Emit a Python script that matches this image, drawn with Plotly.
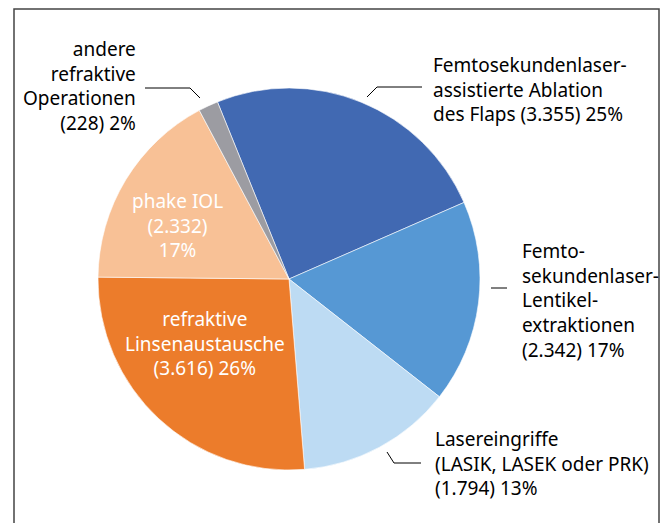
import plotly.graph_objects as go

# ==========================================
# DATA
# ==========================================

categories = [
    "Femtosekundenlaser-assistierte Ablation des Flaps",
    "Femtosekundenlaser-Lentikelextraktionen",
    "Lasereingriffe (LASIK, LASEK oder PRK)",
    "refraktive Linsenaustausche",
    "phake IOL",
    "andere refraktive Operationen",
]
counts = [3355, 2342, 1794, 3616, 2332, 228]
shares = ["25%", "17%", "13%", "26%", "17%", "2%"]
colors = ["#4169B2", "#5698D4", "#BDDBF3", "#EC7C2B", "#F8C196", "#9C9CA2"]

W, H = 668, 523
OFF = 8  # the page body adds an 8px margin
FONT = "Noto Sans"


def px(x):
    return (x - OFF) / W


def py(y):
    return 1 - (y - OFF) / H


def fmt(n):
    return f"{n:,}".replace(",", ".")


# ==========================================
# PIE
# ==========================================

cx, cy, r = 289, 279, 191

fig = go.Figure(go.Pie(
    labels=categories,
    values=counts,
    sort=False,
    direction="clockwise",
    rotation=-22,
    marker=dict(colors=colors, line=dict(color="white", width=0.6)),
    textinfo="none",
    hoverinfo="label+value+percent",
    showlegend=False,
    domain=dict(x=[px(cx - r), px(cx + r)], y=[py(cy + r), py(cy - r)]),
))

# ==========================================
# LABELS
# ==========================================

labels = [
    ("Femtosekundenlaser-<br>assistierte Ablation<br>des Flaps (%s) %s", 431, 90, "left", "black"),
    ("Femto-<br>sekundenlaser-<br>Lentikel-<br>extraktionen<br>(%s) %s", 520, 300, "left", "black"),
    ("Lasereingriffe<br>(LASIK, LASEK oder PRK)<br>(%s) %s", 433, 463, "left", "black"),
    ("refraktive<br>Linsenaustausche<br>(%s) %s", 205, 343, "center", "white"),
    ("phake IOL<br>(%s)<br>%s", 177, 225, "center", "white"),
    ("andere<br>refraktive<br>Operationen<br>(%s) %s", 138, 86, "right", "black"),
]

for i, (tpl, x, y, anchor, col) in enumerate(labels):
    fig.add_annotation(
        text=tpl % (fmt(counts[i]), shares[i]),
        x=px(x), y=py(y), xref="paper", yref="paper",
        xanchor=anchor, yanchor="middle", align=anchor,
        showarrow=False,
        font=dict(family=FONT, size=19, color=col),
    )

# leader lines
leaders = [
    [(367, 97), (377, 87), (422, 87)],
    [(491, 288), (507, 288)],
    [(387, 452), (394, 463), (421, 463)],
    [(200, 98), (190, 88), (145, 88)],
]
for pts in leaders:
    path = "M " + " L ".join(f"{px(a)},{py(b)}" for a, b in pts)
    fig.add_shape(type="path", path=path, xref="paper", yref="paper",
                  line=dict(color="black", width=1))

# frame
fig.add_shape(type="rect", xref="paper", yref="paper",
              x0=px(14), x1=px(659), y0=-0.1, y1=py(9),
              line=dict(color="#444444", width=1.5))

fig.update_layout(
    width=W,
    height=H,
    margin=dict(l=0, r=0, t=0, b=0),
    paper_bgcolor="white",
    plot_bgcolor="white",
)

fig.write_html("out.html")
